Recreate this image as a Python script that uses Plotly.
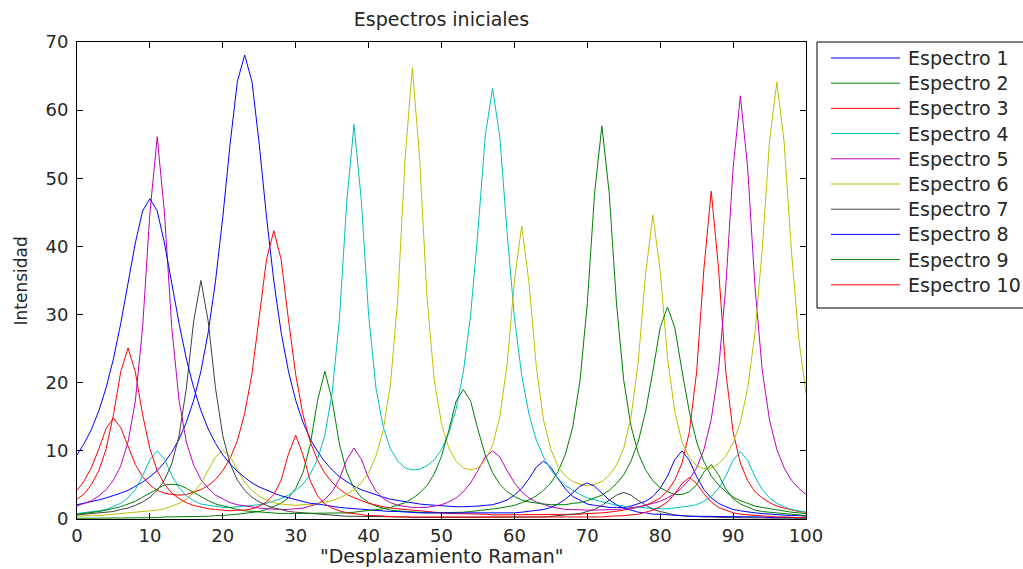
import plotly.graph_objects as go

# ---------------- data ----------------
x_raman = list(range(101))

espectro_1 = [
    2.1, 2.3, 2.5, 2.8, 3.1, 3.4, 3.8, 4.2, 4.8, 5.4,
    6.2, 7.1, 8.3, 9.8, 11.7, 14.2, 17.4, 21.7, 27.4, 34.9,
    44.3, 55.0, 64.2, 68.1, 64.2, 55.0, 44.3, 34.9, 27.4, 21.7,
    17.4, 14.2, 11.7, 9.9, 8.4, 7.2, 6.2, 5.5, 4.8, 4.3,
    3.9, 3.5, 3.2, 2.9, 2.7, 2.5, 2.3, 2.2, 2.1, 2.0,
    1.9, 1.8, 1.8, 1.8, 1.8, 1.9, 2.0, 2.1, 2.4, 2.8,
    3.5, 4.5, 5.9, 7.6, 8.5, 7.6, 5.9, 4.4, 3.3, 2.7,
    2.2, 2.0, 1.8, 1.7, 1.7, 1.7, 1.9, 2.2, 2.6, 3.3,
    4.5, 6.3, 8.7, 10.0, 8.6, 6.2, 4.3, 3.1, 2.3, 1.8,
    1.4, 1.2, 1.0, 0.9, 0.8, 0.7, 0.6, 0.5, 0.5, 0.5, 0.4]

espectro_2 = [
    0.1, 0.1, 0.1, 0.2, 0.2, 0.2, 0.2, 0.2, 0.2, 0.2,
    0.2, 0.2, 0.3, 0.3, 0.3, 0.3, 0.4, 0.4, 0.4, 0.5,
    0.5, 0.6, 0.7, 0.8, 1.0, 1.1, 1.4, 1.8, 2.3, 3.1,
    4.5, 6.8, 10.9, 17.4, 21.7, 17.4, 11.0, 6.9, 4.5, 3.2,
    2.4, 1.9, 1.6, 1.3, 1.2, 1.1, 1.0, 0.9, 0.9, 0.9,
    0.9, 0.9, 1.0, 1.0, 1.1, 1.2, 1.3, 1.4, 1.6, 1.8,
    2.0, 2.4, 2.8, 3.4, 4.2, 5.3, 7.0, 9.5, 13.5, 20.3,
    31.6, 47.8, 57.7, 47.9, 31.7, 20.3, 13.6, 9.6, 7.2, 5.6,
    4.6, 4.0, 3.6, 3.6, 4.0, 5.0, 6.9, 8.0, 6.5, 4.4,
    3.0, 2.2, 1.7, 1.3, 1.1, 1.0, 0.8, 0.7, 0.7, 0.6, 0.5]

espectro_3 = [
    4.2, 5.6, 7.6, 10.3, 13.3, 14.8, 13.4, 10.6, 8.0, 6.2,
    5.0, 4.2, 3.8, 3.6, 3.5, 3.6, 3.9, 4.3, 4.9, 5.8,
    7.1, 8.9, 11.5, 15.5, 21.3, 29.4, 38.1, 42.3, 38.1, 29.3,
    21.2, 15.3, 11.3, 8.6, 6.7, 5.4, 4.4, 3.6, 3.1, 2.7,
    2.3, 2.0, 1.8, 1.6, 1.5, 1.3, 1.2, 1.1, 1.0, 1.0,
    0.9, 0.8, 0.8, 0.8, 0.7, 0.7, 0.7, 0.6, 0.6, 0.6,
    0.6, 0.6, 0.6, 0.6, 0.6, 0.6, 0.6, 0.7, 0.7, 0.7,
    0.8, 0.8, 0.9, 1.0, 1.1, 1.3, 1.5, 1.7, 2.0, 2.5,
    3.1, 4.1, 5.7, 8.2, 12.8, 21.6, 36.8, 48.1, 36.8, 21.6,
    12.8, 8.2, 5.6, 4.0, 3.1, 2.4, 1.9, 1.6, 1.3, 1.1, 1.0]

espectro_4 = [
    0.8, 0.9, 1.0, 1.2, 1.4, 1.8, 2.3, 3.1, 4.3, 6.3,
    8.7, 10.0, 8.8, 6.4, 4.6, 3.4, 2.7, 2.2, 2.0, 1.8,
    1.7, 1.7, 1.8, 1.8, 1.9, 2.1, 2.3, 2.6, 3.0, 3.5,
    4.2, 5.1, 6.6, 8.8, 12.3, 18.5, 29.4, 46.5, 57.9, 46.8,
    30.0, 19.3, 13.5, 10.3, 8.5, 7.5, 7.2, 7.3, 7.8, 8.7,
    10.2, 12.6, 16.1, 21.6, 30.0, 42.2, 56.2, 63.2, 56.1, 42.0,
    29.6, 21.1, 15.4, 11.6, 9.1, 7.2, 5.9, 4.9, 4.2, 3.6,
    3.1, 2.8, 2.5, 2.2, 2.0, 1.9, 1.7, 1.7, 1.6, 1.5,
    1.5, 1.5, 1.6, 1.7, 1.9, 2.1, 2.6, 3.3, 4.5, 6.3,
    8.6, 9.9, 8.6, 6.2, 4.3, 3.1, 2.3, 1.8, 1.4, 1.2, 1.0]

espectro_5 = [
    1.9, 2.3, 2.7, 3.4, 4.3, 5.7, 7.8, 11.3, 17.3, 28.1,
    44.9, 56.1, 44.9, 28.1, 17.4, 11.3, 7.9, 5.8, 4.5, 3.5,
    2.9, 2.4, 2.1, 1.9, 1.7, 1.6, 1.5, 1.4, 1.4, 1.4,
    1.5, 1.6, 1.9, 2.2, 2.9, 4.0, 5.9, 8.7, 10.4, 8.8,
    6.0, 4.1, 3.0, 2.4, 2.0, 1.8, 1.7, 1.7, 1.7, 1.9,
    2.1, 2.5, 3.1, 4.0, 5.3, 7.1, 9.1, 10.0, 9.1, 7.1,
    5.3, 4.0, 3.1, 2.5, 2.1, 1.8, 1.6, 1.4, 1.4, 1.3,
    1.3, 1.3, 1.3, 1.3, 1.4, 1.5, 1.6, 1.8, 2.0, 2.3,
    2.6, 3.1, 3.7, 4.6, 5.8, 7.5, 10.2, 14.6, 21.8, 34.1,
    51.5, 62.1, 51.5, 34.1, 21.8, 14.5, 10.2, 7.5, 5.7, 4.5, 3.6]

espectro_6 = [
    0.4, 0.5, 0.5, 0.5, 0.6, 0.6, 0.7, 0.8, 0.9, 1.0,
    1.1, 1.3, 1.5, 1.9, 2.3, 2.9, 3.9, 5.2, 7.1, 9.1,
    10.1, 9.2, 7.2, 5.4, 4.2, 3.3, 2.8, 2.4, 2.2, 2.1,
    2.0, 2.1, 2.1, 2.3, 2.5, 2.7, 3.1, 3.6, 4.3, 5.3,
    6.8, 9.2, 13.0, 19.8, 32.3, 52.8, 66.2, 52.9, 32.7, 20.4,
    14.0, 10.4, 8.5, 7.5, 7.2, 7.5, 8.6, 10.8, 15.0, 22.7,
    34.9, 43.0, 34.7, 22.4, 14.5, 10.2, 7.7, 6.3, 5.5, 5.1,
    4.9, 5.1, 5.5, 6.4, 7.9, 10.4, 15.0, 23.2, 36.0, 44.6,
    36.4, 23.7, 15.7, 11.3, 9.0, 7.8, 7.4, 7.5, 8.1, 9.2,
    11.2, 14.2, 19.2, 27.3, 39.6, 55.5, 64.1, 55.3, 39.3, 26.5, 18.4]

espectro_7 = [
    0.6, 0.7, 0.7, 0.8, 1.0, 1.1, 1.4, 1.6, 2.0, 2.5,
    3.2, 4.2, 5.7, 8.1, 12.2, 19.2, 29.0, 35.0, 29.0, 19.2,
    12.2, 8.1, 5.7, 4.2, 3.2, 2.5, 2.0, 1.6, 1.4, 1.1,
    1.0, 0.9, 0.8, 0.7, 0.6, 0.5, 0.5, 0.4, 0.4, 0.4,
    0.3, 0.3, 0.3, 0.3, 0.3, 0.3, 0.2, 0.2, 0.2, 0.2,
    0.2, 0.2, 0.2, 0.2, 0.2, 0.2, 0.2, 0.2, 0.2, 0.2,
    0.2, 0.3, 0.3, 0.3, 0.3, 0.4, 0.5, 0.5, 0.7, 0.8,
    1.1, 1.4, 2.0, 2.7, 3.5, 3.9, 3.5, 2.7, 2.0, 1.4,
    1.1, 0.8, 0.6, 0.5, 0.4, 0.4, 0.3, 0.3, 0.2, 0.2,
    0.2, 0.2, 0.2, 0.2, 0.1, 0.1, 0.1, 0.1, 0.1, 0.1, 0.1]

espectro_8 = [
    9.4, 11.1, 13.2, 15.9, 19.3, 23.5, 28.7, 34.6, 40.5, 45.2,
    47.0, 45.2, 40.5, 34.6, 28.7, 23.5, 19.3, 15.9, 13.2, 11.1,
    9.4, 8.1, 7.0, 6.1, 5.3, 4.7, 4.2, 3.8, 3.4, 3.1,
    2.8, 2.6, 2.3, 2.2, 2.0, 1.9, 1.7, 1.6, 1.5, 1.4,
    1.3, 1.2, 1.2, 1.1, 1.1, 1.0, 1.0, 0.9, 0.9, 0.9,
    0.8, 0.8, 0.8, 0.8, 0.8, 0.8, 0.8, 0.8, 0.8, 0.8,
    0.9, 1.0, 1.1, 1.2, 1.4, 1.7, 2.2, 2.9, 3.8, 4.8,
    5.3, 4.8, 3.8, 2.8, 2.1, 1.6, 1.3, 1.0, 0.9, 0.7,
    0.7, 0.6, 0.5, 0.5, 0.4, 0.4, 0.4, 0.4, 0.3, 0.3,
    0.3, 0.3, 0.3, 0.3, 0.3, 0.2, 0.2, 0.2, 0.2, 0.2, 0.2]

espectro_9 = [
    0.7, 0.8, 1.0, 1.1, 1.3, 1.5, 1.8, 2.2, 2.6, 3.2,
    3.8, 4.5, 5.0, 5.1, 5.0, 4.5, 3.9, 3.2, 2.7, 2.2,
    1.9, 1.6, 1.4, 1.2, 1.1, 1.0, 0.9, 0.9, 0.8, 0.8,
    0.8, 0.8, 0.8, 0.8, 0.8, 0.8, 0.9, 0.9, 1.0, 1.1,
    1.2, 1.3, 1.5, 1.7, 2.0, 2.4, 3.0, 3.8, 4.9, 6.6,
    9.2, 13.0, 17.3, 19.0, 17.3, 13.1, 9.4, 6.8, 5.1, 4.0,
    3.3, 2.8, 2.5, 2.3, 2.2, 2.1, 2.1, 2.1, 2.3, 2.4,
    2.7, 3.1, 3.5, 4.2, 5.2, 6.5, 8.5, 11.4, 15.8, 21.7,
    28.1, 31.1, 28.1, 21.7, 15.7, 11.3, 8.4, 6.3, 5.0, 4.0,
    3.2, 2.7, 2.3, 1.9, 1.7, 1.5, 1.3, 1.1, 1.0, 0.9, 0.8]

espectro_10 = [
    2.9, 3.7, 5.1, 7.1, 10.3, 15.3, 21.6, 25.1, 21.6, 15.3,
    10.3, 7.1, 5.1, 3.8, 3.0, 2.4, 2.0, 1.7, 1.5, 1.4,
    1.3, 1.2, 1.3, 1.3, 1.5, 1.9, 2.5, 3.6, 5.7, 9.5,
    12.3, 9.4, 5.6, 3.4, 2.2, 1.6, 1.2, 0.9, 0.8, 0.6,
    0.5, 0.5, 0.4, 0.4, 0.3, 0.3, 0.3, 0.3, 0.2, 0.2,
    0.2, 0.2, 0.2, 0.2, 0.2, 0.2, 0.2, 0.2, 0.2, 0.2,
    0.2, 0.2, 0.2, 0.2, 0.2, 0.2, 0.2, 0.2, 0.2, 0.2,
    0.3, 0.3, 0.3, 0.4, 0.4, 0.5, 0.6, 0.7, 1.0, 1.3,
    1.8, 2.5, 3.7, 5.2, 6.1, 5.2, 3.7, 2.5, 1.7, 1.3,
    0.9, 0.7, 0.6, 0.5, 0.4, 0.3, 0.3, 0.3, 0.2, 0.2, 0.2]

series_names = ["Espectro 1", "Espectro 2", "Espectro 3", "Espectro 4", "Espectro 5",
                "Espectro 6", "Espectro 7", "Espectro 8", "Espectro 9", "Espectro 10"]
series_values = [espectro_1, espectro_2, espectro_3, espectro_4, espectro_5,
                 espectro_6, espectro_7, espectro_8, espectro_9, espectro_10]
x_ticks = [0, 10, 20, 30, 40, 50, 60, 70, 80, 90, 100]
y_ticks = [0, 10, 20, 30, 40, 50, 60, 70]

# ---------------- style ----------------
colors = ["#0000FF", "#008000", "#FF0000", "#00BFBF", "#BF00BF",
          "#BFBF00", "#404040", "#0000FF", "#008000", "#FF0000"]
FONT = "DejaVu Sans"
TXT = "#262626"

W, H = 1023, 569
ML, MR, MT, MB = 77, 217, 42, 50
PW, PH = W - ML - MR, H - MT - MB


def px_x(p):
    return (p - ML) / PW


def px_y(p):
    return (H - MB - p) / PH


fig = go.Figure()
for name, vals, col in zip(series_names, series_values, colors):
    fig.add_trace(go.Scatter(x=x_raman, y=vals, mode="lines", name=name,
                             line=dict(color=col, width=1), showlegend=False))

axis_common = dict(ticks="inside", ticklen=6, tickcolor="black", showline=True,
                   linecolor="black", linewidth=1, mirror="ticks", showgrid=False,
                   zeroline=False, tickfont=dict(family=FONT, size=18, color=TXT))
fig.update_xaxes(range=[0, 100], tickvals=x_ticks, **axis_common)
fig.update_yaxes(range=[0, 70], tickvals=y_ticks, ticklabelstandoff=4, **axis_common)

shapes = []
annotations = []
# legend box (drawn manually to match the MATLAB layout)
shapes.append(dict(type="rect", xref="paper", yref="paper",
                   x0=px_x(817), x1=px_x(1040), y0=px_y(308), y1=px_y(42),
                   line=dict(color="black", width=1), fillcolor="white", layer="above"))
for i, (name, col) in enumerate(zip(series_names, colors)):
    yy = px_y(58 + 25.2 * i)
    shapes.append(dict(type="line", xref="paper", yref="paper",
                       x0=px_x(831), x1=px_x(900), y0=yy, y1=yy,
                       line=dict(color=col, width=1), layer="above"))
    annotations.append(dict(text=name, xref="paper", yref="paper", x=px_x(906), y=yy,
                            xanchor="left", yanchor="middle", showarrow=False,
                            font=dict(family=FONT, size=19, color=TXT)))

annotations.append(dict(text='"Desplazamiento Raman"', xref="paper", yref="paper",
                        x=0.5, y=px_y(556), xanchor="center", yanchor="middle",
                        showarrow=False, font=dict(family=FONT, size=19, color=TXT)))
annotations.append(dict(text="Intensidad", xref="paper", yref="paper",
                        x=px_x(20), y=0.5, xanchor="center", yanchor="middle",
                        textangle=-90, showarrow=False,
                        font=dict(family=FONT, size=17, color=TXT)))

fig.update_layout(
    width=W, height=H,
    margin=dict(l=ML, r=MR, t=MT, b=MB, autoexpand=False),
    paper_bgcolor="white", plot_bgcolor="white",
    title=dict(text="Espectros iniciales", x=0.5, xref="paper", xanchor="center",
               y=1 - 19 / H, yref="container", yanchor="middle",
               font=dict(family=FONT, size=19, color=TXT)),
    shapes=shapes, annotations=annotations, showlegend=False,
)

fig.write_html("out.html")
